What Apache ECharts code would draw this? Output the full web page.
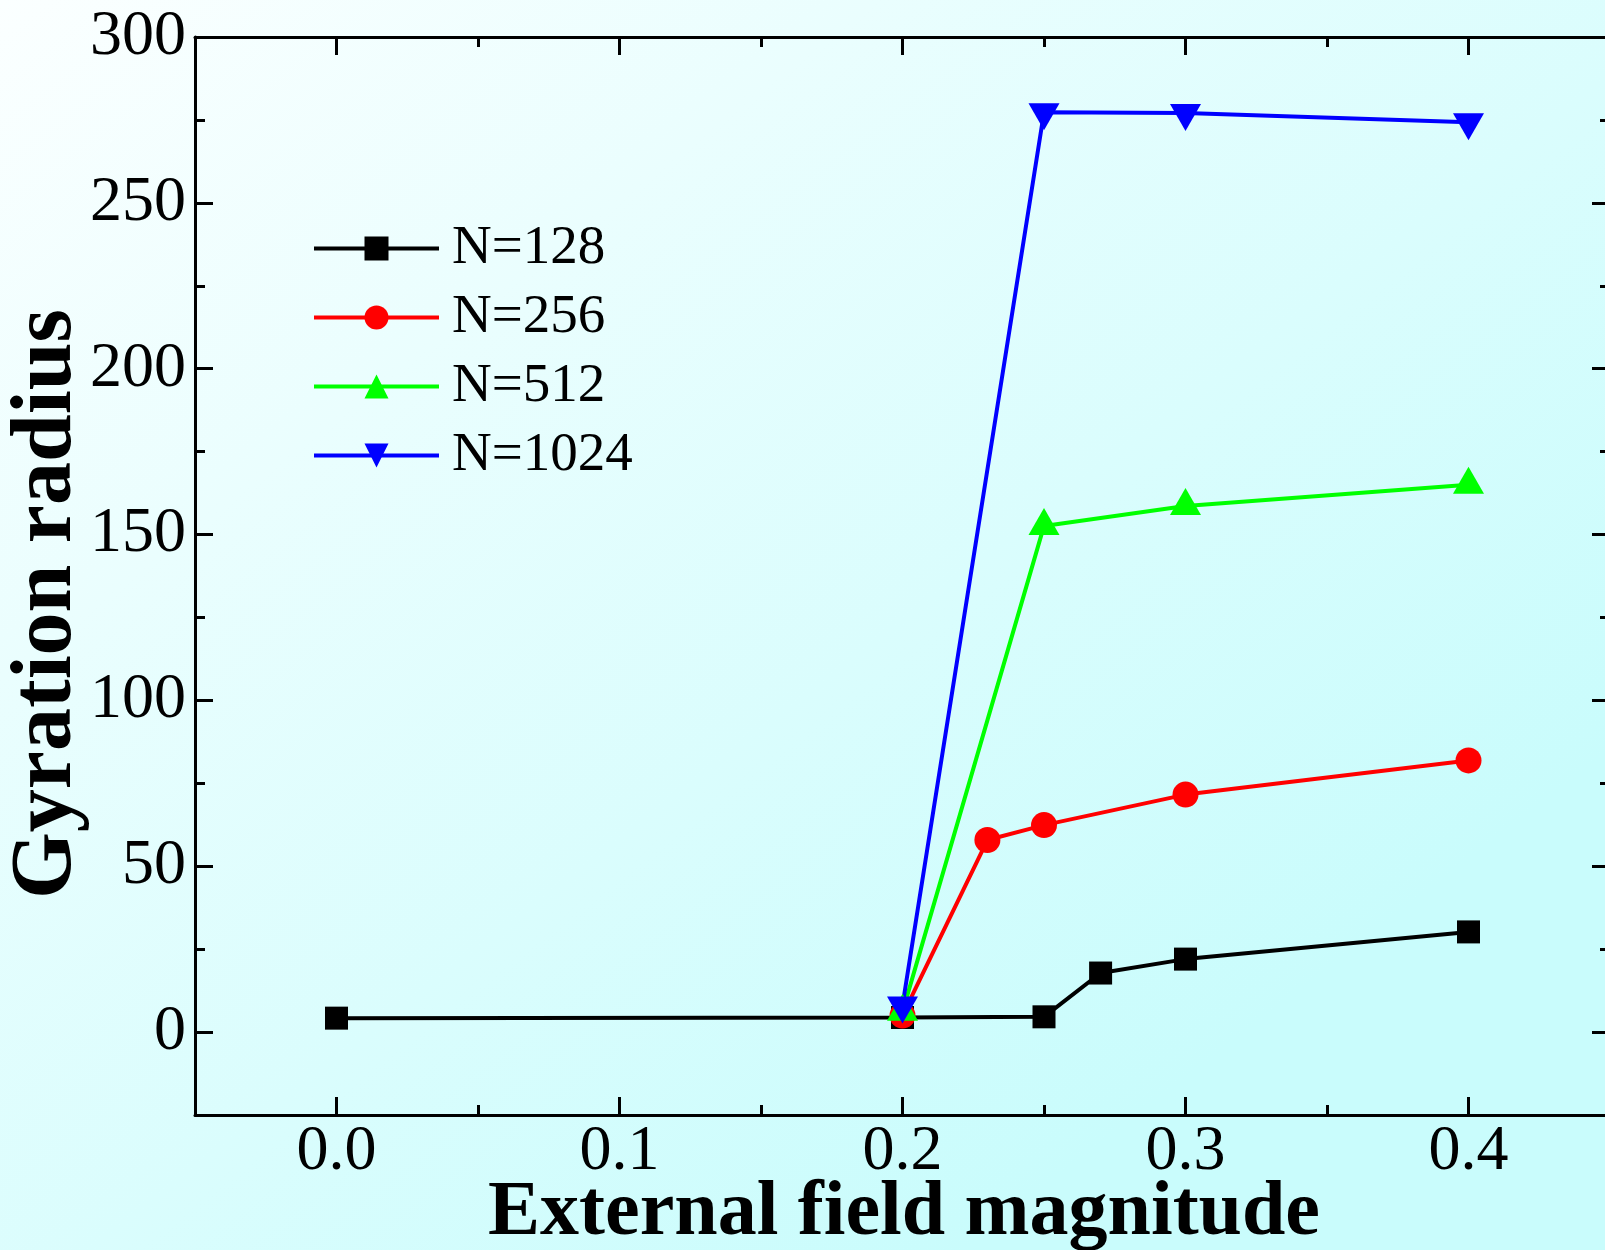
<!DOCTYPE html>
<html><head><meta charset="utf-8">
<script src="https://cdn.jsdelivr.net/npm/echarts@6/dist/echarts.min.js"></script>
<style>html,body{margin:0;padding:0;overflow:hidden;width:1605px;height:1250px;}#c{width:1610px;height:1250px;}</style>
</head><body><div id="c"></div>
<script>
// ---- data ----
const seriesNames = ['N=128', 'N=256', 'N=512', 'N=1024'];
const x128 = [0, 0.2, 0.25, 0.27, 0.3, 0.4];
const y128 = [4.2, 4.4, 4.6, 17.8, 22.0, 30.2];
const x256 = [0.2, 0.23, 0.25, 0.3, 0.4];
const y256 = [5.0, 57.9, 62.4, 71.6, 81.9];
const x512 = [0.2, 0.25, 0.3, 0.4];
const y512 = [6.1, 152.6, 158.6, 165.0];
const x1024 = [0.2, 0.25, 0.3, 0.4];
const y1024 = [8.0, 277.3, 277.1, 274.3];
const xMajorTicks = [0, 0.1, 0.2, 0.3, 0.4];
const xMinorTicks = [0.05, 0.15, 0.25, 0.35];
const yMajorTicks = [0, 50, 100, 150, 200, 250, 300];
const yMinorTicks = [25, 75, 125, 175, 225, 275];
const xTitle = 'External field magnitude';
const yTitle = 'Gyration radius';

const pairs = (xs, ys) => xs.map((x, i) => [x, ys[i]]);
const FONT = 'Liberation Serif';

function mkAxis(dim, position, ticks, len, showLine, showLabel, extra) {
  const a = {
    type: 'value', position: position, gridIndex: 0,
    min: dim === 'x' ? -0.05 : -25, max: dim === 'x' ? 0.45 : 300,
    axisLine: { show: showLine, onZero: false, lineStyle: { color: '#000', width: 3 } },
    axisTick: { show: true, inside: true, length: len, customValues: ticks, lineStyle: { color: '#000', width: 3 } },
    axisLabel: { show: showLabel },
    splitLine: { show: false },
    minorTick: { show: false }
  };
  if (showLabel) {
    a.axisLabel = Object.assign({
      show: true, customValues: ticks, color: '#000',
      fontFamily: FONT, fontSize: 64
    }, extra);
  }
  return a;
}

const chart = echarts.init(document.getElementById('c'));
const option = {
  animation: false,
  backgroundColor: new echarts.graphic.LinearGradient(0, 0, 0.6, 1, [
    { offset: 0, color: '#fbffff' },
    { offset: 1, color: '#c9fcfc' }
  ]),
  grid: { left: 195, top: 37, right: 0, bottom: 135, containLabel: false },
  xAxis: [
    mkAxis('x', 'bottom', xMajorTicks, 18, true, true, { margin: 5, formatter: v => v.toFixed(1) }),
    mkAxis('x', 'bottom', xMinorTicks, 10, false, false),
    mkAxis('x', 'top', xMajorTicks, 18, true, false),
    mkAxis('x', 'top', xMinorTicks, 10, false, false)
  ],
  yAxis: [
    mkAxis('y', 'left', yMajorTicks, 18, true, true, { margin: 9, formatter: v => String(v) }),
    mkAxis('y', 'left', yMinorTicks, 10, false, false),
    mkAxis('y', 'right', yMajorTicks, 18, true, false),
    mkAxis('y', 'right', yMinorTicks, 10, false, false)
  ],
  legend: {
    orient: 'vertical', left: 307, top: 209,
    itemWidth: 125, itemHeight: 30, itemGap: 0,
    lineStyle: { width: 4 },
    textStyle: { fontFamily: FONT, fontSize: 55, color: '#000', lineHeight: 69, padding: [0, 0, 0, 8] },
    data: seriesNames
  },
  series: [
    { name: seriesNames[0], type: 'line', data: pairs(x128, y128), symbol: 'rect', symbolSize: 23,
      lineStyle: { color: '#000000', width: 4 }, itemStyle: { color: '#000000' } },
    { name: seriesNames[1], type: 'line', data: pairs(x256, y256), symbol: 'circle', symbolSize: 26,
      lineStyle: { color: '#ff0000', width: 4 }, itemStyle: { color: '#ff0000' } },
    { name: seriesNames[2], type: 'line', data: pairs(x512, y512), symbol: 'triangle', symbolSize: [31, 27],
      symbolOffset: [0, -4.5],
      lineStyle: { color: '#00ff00', width: 4 }, itemStyle: { color: '#00ff00' } },
    { name: seriesNames[3], type: 'line', data: pairs(x1024, y1024), symbol: 'triangle', symbolSize: [31, 27],
      symbolRotate: 180, symbolOffset: [0, 4.5],
      lineStyle: { color: '#0000ff', width: 4 }, itemStyle: { color: '#0000ff' } }
  ],
  graphic: [
    { type: 'text', x: 904, y: 1214, z: 10,
      style: { text: xTitle, font: 'bold 78px "Liberation Serif"', fill: '#000', align: 'center', verticalAlign: 'middle' } },
    { type: 'text', x: 48, y: 604, rotation: Math.PI / 2, z: 10,
      style: { text: yTitle, font: 'bold 86px "Liberation Serif"', fill: '#000', align: 'center', verticalAlign: 'middle' } }
  ]
};
chart.setOption(option);
</script>
</body></html>
